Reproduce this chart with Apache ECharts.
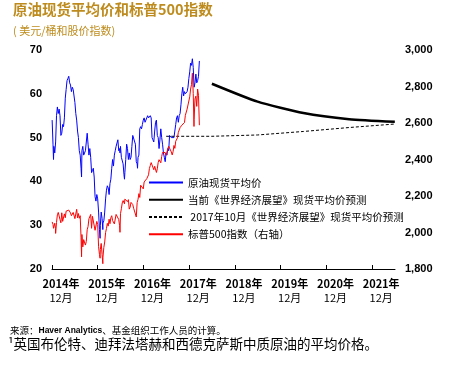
<!DOCTYPE html>
<html><head><meta charset="utf-8">
<script src="https://cdn.jsdelivr.net/npm/echarts@6/dist/echarts.min.js"></script>
<style>html,body{margin:0;padding:0;background:#fff}#c{width:453px;height:387px}</style>
</head><body><div id="c"></div>
<script>
// Weekly (Friday) values, first week = 2015-01-02
const weekStart = '2015-01-02';
const oil2015 = [54,48.5,48,46.5,49, 55,57,55.5,56.5, 55,50.5,51,53, 52.5,54.5,59,61, 63,63.5,64,62.5,62, 60.5,61.5,61,61, 58,55.5,54,51.5,50, 47,46,43,47, 48,46,46,47, 47,51,48.5,46,47.5, 45.5,42,42.5,43, 41,36.5,35.5,37];
const oil2016 = [36,33,29,30,33, 31.5,30.5,31,33, 36,38,39,38.5, 37,39.5,40.5,43,45, 43.5,46,47,48, 48,49.5,47,47.5, 48,45.5,45.5,44,41.5, 42,45,48.5,47.5, 45,46.5,45,45.5,48, 50.5,50.5,50.5,48.5, 44.5,44,45.5,46, 52,52.5,52,53,54];
const oil2017 = [54.5,53.5,54,54, 55,54.5,54.5,55, 54.5,50,49.5,49,51.5, 53.5,54,50.5,50, 47.5,49.5,52,50, 48.5,46.5,45.5,44.5,46.5, 46,47.5,47,50.5, 50.5,50,50,50, 50,51.5,53,54.5,55, 53.5,55,55.5,57.5, 60,61.5,59.5,60.5, 60,60,60.5,61.5,63.5];
const oil2018 = [65,67,66.5,68, 66,61.5,62.5,64.5, 62.5,63,64,67.5];
const spx2015 = [2058,2045,2019,2051,1995, 2055,2097,2110,2105, 2071,2053,2108,2061, 2067,2102,2081,2117, 2108,2116,2123,2126,2107, 2092,2094,2110,2102, 2076,2077,2127,2080,2104, 2078,2092,1971,1989, 1921,1961,1958,1931, 1951,2015,2033,2075,2079, 2099,2023,2089,2090, 2092,2012,2006,2061];
const spx2016 = [2044,1922,1880,1907,1940, 1880,1865,1918,1948, 1999,2022,2050,2035, 2073,2048,2081,2092,2065, 2057,2047,2053,2099, 2099,2096,2071,2037, 2103,2130,2162,2175,2174, 2183,2184,2184,2169, 2180,2128,2139,2165,2168, 2153,2133,2141,2126, 2085,2164,2182,2213, 2192,2259,2258,2263,2239];
const spx2017 = [2277,2275,2271,2295, 2297,2316,2351,2367, 2383,2373,2378,2344,2363, 2355,2329,2349,2384, 2399,2391,2382,2416, 2439,2432,2433,2438,2423, 2425,2459,2473,2472, 2477,2441,2425,2443, 2477,2461,2500,2502,2519, 2549,2553,2575,2581, 2588,2582,2579,2602, 2642,2652,2676,2683,2674];
const spx2018 = [2743,2786,2810,2873, 2762,2620,2732,2747, 2691,2786,2752,2588];
// Intra-week extremes
const spikeDates = ['2015-01-13','2015-01-29','2015-08-24','2015-08-25','2016-01-20','2016-02-11','2016-06-27','2016-08-02','2016-11-14','2018-02-08'];
const spikeOil = [45,46.5,41.5,41,27,29,46.5,40.5,43,62];
const spikeSpx = [2023,2021,1893,1867,1859,1829,2001,2157,2164,2581];
// Forecasts (annual averages, plotted mid-year)
const currentDates = ['2018-07-01','2019-07-01','2020-07-01','2021-07-01','2022-07-01'];
const currentForecast = [62.3,58.2,55.6,54.2,53.6];
const oct2017Dates = ['2017-07-01','2018-07-01','2019-07-01','2020-07-01','2021-07-01','2022-07-01'];
const oct2017Forecast = [50.3,50.3,50.6,51.4,52.3,53.1];
// Axis ticks
const tickMonths = [0,12,24,36,48,60,72,84];
const tickYears = ['2014年','2015年','2016年','2017年','2018年','2019年','2020年','2021年'];

const names = ['原油现货平均价','当前《世界经济展望》现货平均价预测',' 2017年10月《世界经济展望》现货平均价预测','标普500指数（右轴）'];
const DAY = 86400000, MON = 30.4375;
const base = Date.UTC(2015,0,1);
function toM(s){const p=s.split('-');return (Date.UTC(+p[0],+p[1]-1,+p[2])-base)/DAY/MON;}
const w0 = (Date.UTC(2015,0,2)-base)/DAY;
function weekly(arr, spikes){
  const out = arr.map((v,i)=>[(w0+7*i)/MON, v]);
  spikeDates.forEach((d,i)=>out.push([toM(d), spikes[i]]));
  out.sort((a,b)=>a[0]-b[0]);
  return out;
}
const oilData = weekly(oil2015.concat(oil2016,oil2017,oil2018), spikeOil);
const spxData = weekly(spx2015.concat(spx2016,spx2017,spx2018), spikeSpx);
const curData = currentDates.map((d,i)=>[toM(d), currentForecast[i]]);
const octData = oct2017Dates.map((d,i)=>[toM(d), oct2017Forecast[i]]);

const FF = '"Noto Sans CJK SC","Noto Sans",sans-serif';
const gold = '#BE8C1E';
const chart = echarts.init(document.getElementById('c'), null, {renderer:'canvas'});
chart.setOption({
  animation:false,
  textStyle:{fontFamily:FF},
  title:[
    {text:'原油现货平均价和标普500指数', left:13, top:2, padding:0, textStyle:{fontSize:14.5,fontWeight:'bold',color:gold,fontFamily:FF}},
    {text:'( 美元/桶和股价指数)', left:13, top:25, padding:0, textStyle:{fontSize:11,fontWeight:'normal',color:gold,fontFamily:FF}},
    {text:'来源：{b|Haver Analytics}、基金组织工作人员的计算。', left:10, top:326, padding:0,
     textStyle:{fontSize:9.5,fontWeight:'normal',color:'#000',fontFamily:FF,
       rich:{b:{fontSize:8.5,fontWeight:'bold',color:'#000',fontFamily:'"Liberation Sans Narrow","Liberation Sans",sans-serif'}}}},
    {text:'¹英国布伦特、迪拜法塔赫和西德克萨斯中质原油的平均价格。', left:8, top:337, padding:0, textStyle:{fontSize:13.5,fontWeight:'normal',color:'#000',fontFamily:FF}}
  ],
  legend:{
    orient:'vertical', left:148, top:177, padding:0, itemWidth:34, itemHeight:14, itemGap:6,
    itemStyle:{opacity:0},
    textStyle:{fontSize:10.5,color:'#000',fontFamily:FF},
    data:names
  },
  grid:{left:52, right:58, top:50, bottom:118, containLabel:false},
  xAxis:{
    type:'value', min:0, max:90, interval:12,
    splitLine:{show:false},
    axisLine:{show:true,lineStyle:{color:'#000',width:1}},
    axisTick:{show:true,inside:true,length:4,lineStyle:{color:'#000'},customValues:tickMonths},
    axisLabel:{
      customValues:tickMonths, margin:8, padding:[0,0,0,18],
      formatter:function(v){const i=tickMonths.indexOf(Math.round(v));return i<0?'':'{y|'+tickYears[i]+'}\n{m|12月}';},
      rich:{y:{fontSize:11,fontWeight:'bold',color:'#000',fontFamily:FF,lineHeight:14},m:{fontSize:11,color:'#000',fontFamily:FF,lineHeight:14}}
    }
  },
  yAxis:[
    {type:'value', min:20, max:70, interval:10, position:'left',
     splitLine:{show:false}, axisLine:{show:false}, axisTick:{show:false},
     axisLabel:{margin:10,fontSize:11,fontWeight:'bold',color:'#000',fontFamily:'"Liberation Sans",Arial,sans-serif'}},
    {type:'value', min:1800, max:3000, interval:200, position:'right',
     splitLine:{show:false}, axisLine:{show:false}, axisTick:{show:false},
     axisLabel:{margin:10,fontSize:11,fontWeight:'bold',color:'#000',fontFamily:'"Liberation Sans",Arial,sans-serif',
       formatter:function(v){return String(v).replace(/\B(?=(\d{3})+(?!\d))/g,',');}}}
  ],
  series:[
    {name:names[0], type:'line', yAxisIndex:0, data:oilData, symbol:'none', lineStyle:{color:'#0000FF',width:1}, itemStyle:{color:'#0000FF'}},
    {name:names[1], type:'line', yAxisIndex:0, data:curData, symbol:'none', smooth:0.2, lineStyle:{color:'#000',width:2.5}, itemStyle:{color:'#000'}},
    {name:names[2], type:'line', yAxisIndex:0, data:octData, symbol:'none', lineStyle:{color:'#000',width:1,type:[3,2]}, itemStyle:{color:'#000'}},
    {name:names[3], type:'line', yAxisIndex:1, data:spxData, symbol:'none', lineStyle:{color:'#FF0000',width:1}, itemStyle:{color:'#FF0000'}}
  ]
});
</script></body></html>
